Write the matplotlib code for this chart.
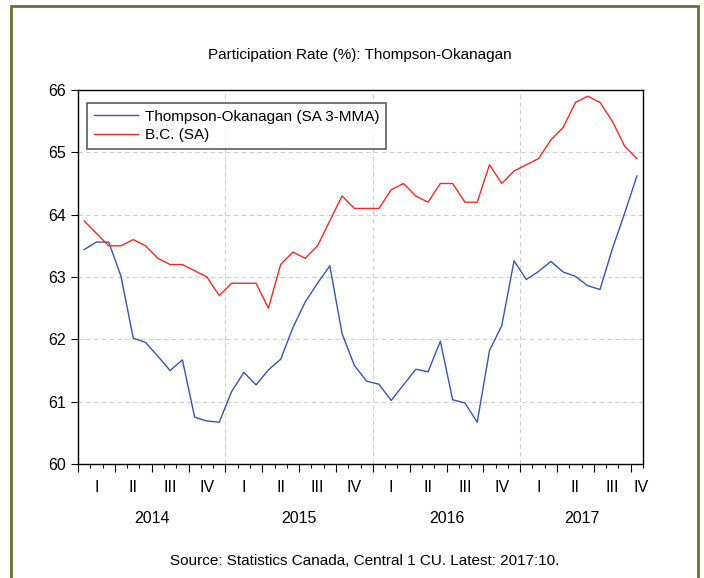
import numpy as np
import matplotlib.pyplot as plt
from matplotlib.patches import Rectangle
from matplotlib.ticker import MultipleLocator, FixedLocator, NullFormatter

plt.rcParams['font.family'] = ['Liberation Sans', 'DejaVu Sans']

# Monthly data, Jan 2014 - Oct 2017
thompson = [63.44, 63.56, 63.56, 63.01, 62.02, 61.95, 61.73, 61.50, 61.67, 60.75,
            60.69, 60.67, 61.16, 61.47, 61.27, 61.51, 61.68, 62.19, 62.60, 62.90,
            63.18, 62.09, 61.58, 61.33, 61.28, 61.02, 61.27, 61.52, 61.48, 61.97,
            61.03, 60.98, 60.67, 61.82, 62.22, 63.26, 62.96, 63.09, 63.25, 63.08,
            63.01, 62.86, 62.80, 63.45, 64.02, 64.62]
bc = [63.9, 63.7, 63.5, 63.5, 63.6, 63.5, 63.3, 63.2, 63.2, 63.1,
      63.0, 62.7, 62.9, 62.9, 62.9, 62.5, 63.2, 63.4, 63.3, 63.5,
      63.9, 64.3, 64.1, 64.1, 64.1, 64.4, 64.5, 64.3, 64.2, 64.5,
      64.5, 64.2, 64.2, 64.8, 64.5, 64.7, 64.8, 64.9, 65.2, 65.4,
      65.8, 65.9, 65.8, 65.5, 65.1, 64.9]
years = ['2014', '2015', '2016', '2017']
quarters = ['I', 'II', 'III', 'IV']

n = len(bc)
x = np.arange(n) + 0.5

fig = plt.figure(figsize=(7.04, 5.78), dpi=100)
ax = fig.add_axes([0.1108, 0.1972, 0.8026, 0.6471])

ax.plot(x, thompson, color='#3a55a8', lw=1.0, label='Thompson-Okanagan (SA 3-MMA)')
ax.plot(x, bc, color='#ee2a2a', lw=1.0, label='B.C. (SA)')

ax.set_xlim(0, n)
ax.set_ylim(60, 66)
ax.yaxis.set_major_locator(MultipleLocator(1))
ax.tick_params(axis='y', labelsize=11.5, length=5, width=0.8, direction='out')

# month ticks (minor) and quarter ticks (major)
ax.xaxis.set_major_locator(FixedLocator(np.arange(0, n + 1, 3)))
ax.xaxis.set_minor_locator(FixedLocator(np.arange(0, n + 1, 1)))
ax.xaxis.set_major_formatter(NullFormatter())
ax.tick_params(axis='x', which='major', length=6, width=0.8, direction='out')
ax.tick_params(axis='x', which='minor', length=3, width=0.8, direction='out')

# gridlines
for v in range(61, 66):
    ax.axhline(v, color='#d0d0d0', lw=0.8, ls=(0, (4, 3)), zorder=0)
for yr in range(1, len(years)):
    ax.axvline(yr * 12, color='#d0d0d0', lw=0.8, ls=(0, (4, 3)), zorder=0)

for s in ax.spines.values():
    s.set_linewidth(1.0)

# quarter and year labels
trans = ax.get_xaxis_transform()
for q in range(int(np.ceil(n / 3))):
    lo, hi = q * 3, min(q * 3 + 3, n)
    pos = (lo + hi) / 2 if hi - lo == 3 else hi - 0.15
    ax.text(pos, -0.062, quarters[q % 4], transform=trans,
            ha='center', va='center', fontsize=11.5)
for i, yr in enumerate(years):
    lo, hi = i * 12, min(i * 12 + 12, n)
    ax.text((lo + hi) / 2, -0.147, yr, transform=trans,
            ha='center', va='center', fontsize=11.5)

leg = ax.legend(loc='upper left', bbox_to_anchor=(0.016, 0.966), fontsize=11,
                frameon=True, fancybox=False, borderpad=0.45, handlelength=2.9,
                handletextpad=0.45, labelspacing=0.3, borderaxespad=0)
leg.get_frame().set_edgecolor('#333333')
leg.get_frame().set_linewidth(1.2)

fig.text(0.511, 1 - 55 / 578, 'Participation Rate (%): Thompson-Okanagan',
         ha='center', va='center', fontsize=11)
fig.text(0.518, 1 - 561 / 578, 'Source: Statistics Canada, Central 1 CU. Latest: 2017:10.',
         ha='center', va='center', fontsize=11)

fig.patches.append(Rectangle((11 / 704, -0.05), 687 / 704, 1.05 - 6 / 578,
                             transform=fig.transFigure, fill=False,
                             edgecolor='#6e6e2e', lw=2.0))

fig.savefig('out.png', dpi=100)
